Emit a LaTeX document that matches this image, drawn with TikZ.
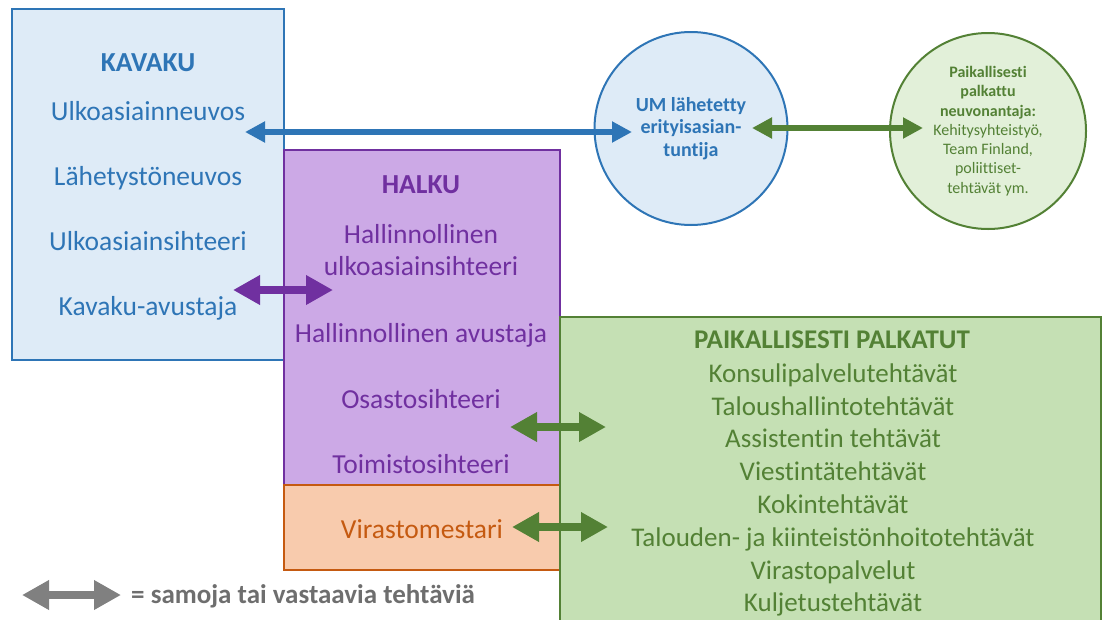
\documentclass[tikz,border=0pt]{standalone}
\usepackage{fontspec}
\setmainfont{Carlito}[Ligatures=NoCommon]
\usetikzlibrary{arrows.meta}
\definecolor{kblue}{HTML}{2E75B6}
\definecolor{kwash}{HTML}{DEEBF7}
\definecolor{hpurp}{HTML}{7030A0}
\definecolor{hwash}{HTML}{CCA9E6}
\definecolor{vorng}{HTML}{C55A11}
\definecolor{vwash}{HTML}{F8CBAD}
\definecolor{pgrn}{HTML}{538135}
\definecolor{pwash}{HTML}{C5E0B4}
\definecolor{cwash}{HTML}{E2F0D9}
\definecolor{lgray}{HTML}{808080}
\definecolor{tgray}{HTML}{6E6E6E}
\tikzset{pane/.style={draw,line width=2pt,inner sep=0pt}, row/.style={anchor=base,inner sep=0pt,font=\fontsize{27.5}{30}\selectfont},greenrow/.style={anchor=base,inner sep=0pt,text=pgrn,font=\fontsize{27}{30}\selectfont},ball/.style={circle,draw,line width=2pt,align=center,inner sep=0pt},bigarr/.style={{Triangle[length=27pt,width=28pt]}-{Triangle[length=27pt,width=28pt]},line width=8pt},smallarr/.style={{Triangle[length=20pt,width=20pt]}-{Triangle[length=20pt,width=20pt]},line width=6pt}}

\begin{document}
\begin{tikzpicture}[x=1pt,y=-1pt]
\useasboundingbox (0,0) rectangle (1103,619);
\node[pane,draw=kblue,fill=kwash,minimum width=272pt,minimum height=351pt] (kavaku) at (148,184.5) {};
\node[pane,draw=hpurp,fill=hwash,minimum width=276pt,minimum height=335pt] (halku) at (422,317.5) {};
\node[pane,draw=vorng,fill=vwash,minimum width=276pt,minimum height=85pt] (vbox) at (422,527.5) {};
\node[pane,draw=pgrn,fill=pwash,minimum width=541pt,minimum height=320pt] (paik) at (830.5,477) {};
% KAVAKU
\node[row,text=kblue] (kavakuT) at (148,71) {\textbf{KAVAKU}};
\node[row,text=kblue] (ulko) at (148,120) {Ulkoasiainneuvos};
\node[row,text=kblue] (lahe) at (148,185) {Lähetystöneuvos};
\node[row,text=kblue] (ulsi) at (148,250) {Ulkoasiainsihteeri};
\node[row,text=kblue] (kava) at (148,315) {Kavaku-avustaja};
% HALKU
\node[row,text=hpurp] (halkuT) at (421,193) {\textbf{HALKU}};
\node[row,text=hpurp] (hall1) at (421,243) {Hallinnollinen};
\node[row,text=hpurp] (hall2) at (421,275) {ulkoasiainsihteeri};
\node[row,text=hpurp] (havu) at (421,342) {Hallinnollinen avustaja};
\node[row,text=hpurp] (osas) at (421,408) {Osastosihteeri};
\node[row,text=hpurp] (toim) at (421,473) {Toimistosihteeri};
\node[row,text=vorng] (vmest) at (422,538) {Virastomestari};
% paikallisesti palkatut
\node[greenrow] (paikT) at (832,348) {\textbf{PAIKALLISESTI PALKATUT}};
\node[greenrow] (konsu) at (833,382) {Konsulipalvelutehtävät};
\node[greenrow] (talo) at (833,415) {Taloushallintotehtävät};
\node[greenrow] (assi) at (833,447) {Assistentin tehtävät};
\node[greenrow] (vies) at (833,480) {Viestintätehtävät};
\node[greenrow] (koki) at (833,513) {Kokintehtävät};
\node[greenrow] (kiint) at (833,546) {Talouden- ja kiinteistönhoitotehtävät};
\node[greenrow] (vpal) at (833,579) {Virastopalvelut};
\node[greenrow] (kulj) at (833,611) {Kuljetustehtävät};
% circles
\node[ball,draw=kblue,fill=kwash,text=kblue,minimum size=193pt,font=\bfseries\fontsize{20}{22.5}\selectfont] (um) at (691,128.5) {UM lähetetty\\erityisasian-\\tuntija};
\node[ball,draw=pgrn,fill=cwash,text=pgrn,minimum size=196pt,font=\fontsize{16}{19.3}\selectfont] (neuvo) at (988,131) {\textbf{Paikallisesti}\\\textbf{palkattu}\\\textbf{neuvonantaja:}\\Kehitysyhteistyö,\\Team Finland,\\poliittiset-\\tehtävät ym.};
% legend
\node[anchor=base west,inner sep=0pt,text=tgray,font=\bfseries\fontsize{27}{30}\selectfont] (legend) at (131,603) {= samoja tai vastaavia tehtäviä};
% arrow ends
\coordinate (blueL) at (245,132); \coordinate (blueR) at (632,132);
\coordinate (topL) at (752,128); \coordinate (topR) at (923,128);
\coordinate (purL) at (233,290); \coordinate (purR) at (333,290);
\coordinate (osL) at (510,427); \coordinate (osR) at (606,427);
\coordinate (viL) at (512,527); \coordinate (viR) at (608,527);
\coordinate (legL) at (22,595); \coordinate (legR) at (121,595);
\draw[smallarr,kblue] (blueL) -- (blueR);
\draw[smallarr,pgrn] (topL) -- (topR);
\draw[bigarr,hpurp] (purL) -- (purR);
\draw[bigarr,pgrn] (osL) -- (osR);
\draw[bigarr,pgrn] (viL) -- (viR);
\draw[bigarr,lgray] (legL) -- (legR);
\end{tikzpicture}
\end{document}
